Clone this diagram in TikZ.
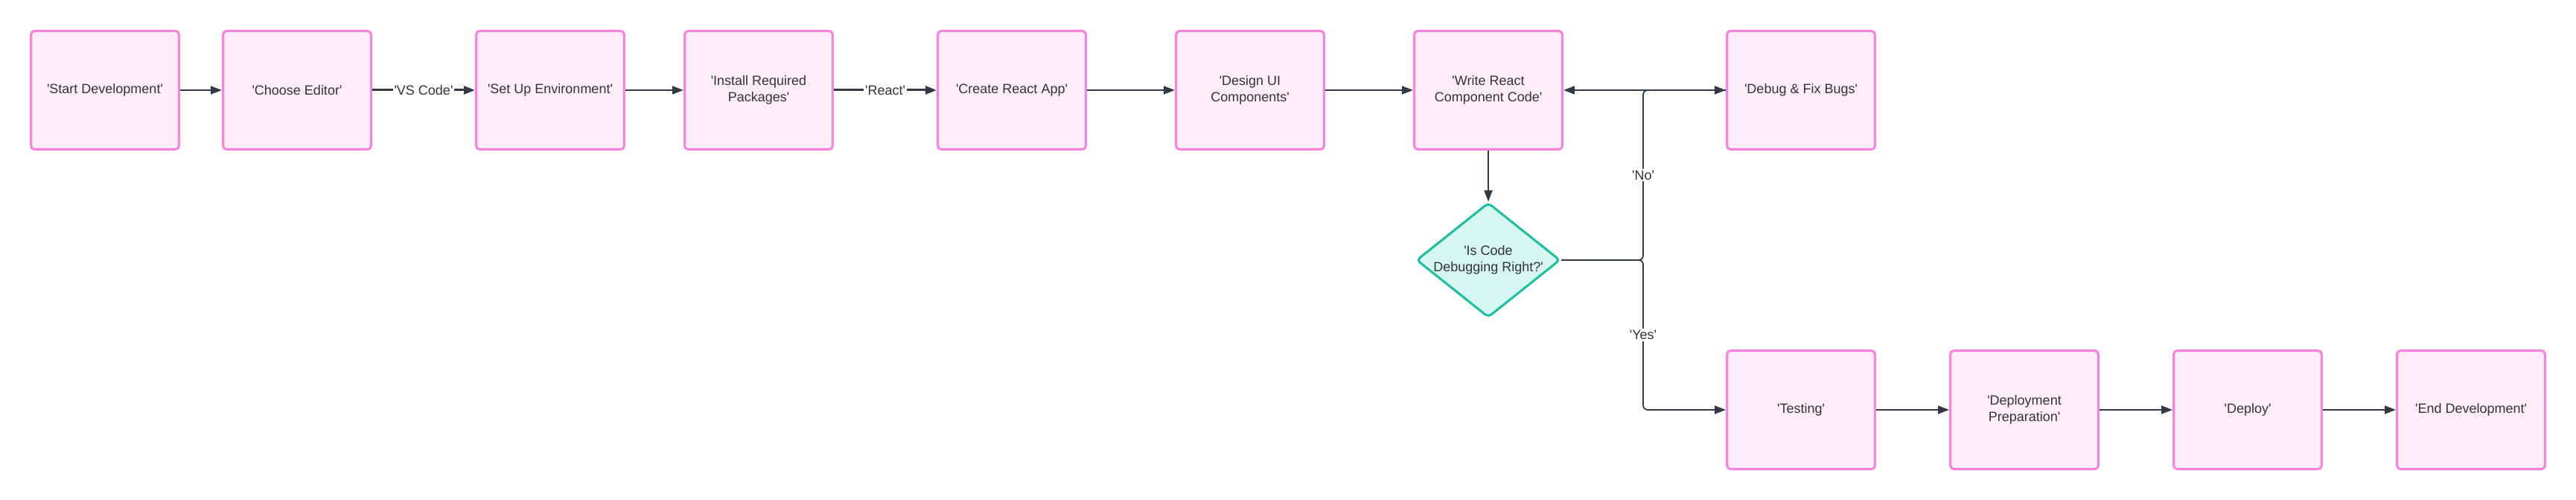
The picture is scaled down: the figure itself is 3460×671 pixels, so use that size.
\documentclass[tikz,border=0pt]{standalone}
\usepackage{fontspec}
\setmainfont{Liberation Sans}
\usetikzlibrary{shapes.geometric,arrows.meta}
\definecolor{pinkline}{HTML}{FF7FDF}
\definecolor{pinkfill}{HTML}{FFEEF9}
\definecolor{tealline}{HTML}{1BBFA0}
\definecolor{tealfill}{HTML}{D5F7F0}
\definecolor{edgecol}{HTML}{333842}
\definecolor{txtcol}{HTML}{333333}
\newcommand{\aps}{\textquotesingle}
\begin{document}
\begin{tikzpicture}[x=1pt,y=-1pt,
  proc/.style={draw=pinkline, fill=pinkfill, line width=3pt, rounded corners=5pt,
    minimum width=199pt, minimum height=159pt, inner sep=0pt, text=txtcol,
    font=\fontsize{18}{22}\selectfont, align=center},
  dec/.style={shape=diamond, draw=tealline, fill=tealfill, line width=3pt, rounded corners=5pt,
    minimum width=193pt, minimum height=154pt, inner sep=0pt, shape aspect=1.25},
  dectext/.style={text=txtcol, font=\fontsize{18}{22}\selectfont, align=center, inner sep=0pt},
  arr/.style={draw=edgecol, line width=1.8pt, -{Triangle[length=15pt,width=11pt]}},
  thickarr/.style={arr, line width=3pt},
  lab/.style={fill=white, text=txtcol, font=\fontsize{18}{22}\selectfont, inner sep=2pt}
]
\useasboundingbox (0,0) rectangle (3460,671);

\node[proc] (start) at (141,121) {\aps Start Development\aps};
\node[proc] (editor) at (399,121) {\aps Choose Editor\aps};
\node[proc] (env) at (739,121) {\aps Set Up Environment\aps};
\node[proc] (install) at (1019,121) {\aps Install Required\\Packages\aps};
\node[proc] (create) at (1359,121) {\aps Create React App\aps};
\node[proc] (design) at (1679,121) {\aps Design UI\\Components\aps};
\node[proc] (write) at (1999,121) {\aps Write React\\Component Code\aps};
\node[proc] (debug) at (2419,121) {\aps Debug \& Fix Bugs\aps};
\node[dec] (check) at (1999,349) {};
\node[dectext] (checktxt) at (check.center) {\aps Is Code\\Debugging Right?\aps};
\node[proc] (testing) at (2419,550) {\aps Testing\aps};
\node[proc] (prep) at (2719,550) {\aps Deployment\\Preparation\aps};
\node[proc] (deploy) at (3019,550) {\aps Deploy\aps};
\node[proc] (endd) at (3319,550) {\aps End Development\aps};

\coordinate (jmid) at (2207,349);
\coordinate (jtop) at (2207,121);
\coordinate (jbot) at (2207,550);

\draw[arr] (start) -- (editor);
\draw[thickarr] (editor) -- node[lab]{\aps VS Code\aps} (env);
\draw[arr] (env) -- (install);
\draw[thickarr] (install) -- node[lab]{\aps React\aps} (create);
\draw[arr] (create) -- (design);
\draw[arr] (design) -- (write);
\draw[arr] (write) -- (check);
\draw[arr] (debug) -- (write);
\draw[arr, rounded corners=6pt] (check.east) -- (jmid) -- node[lab]{\aps No\aps} (jtop) -- (debug.west);
\draw[arr, rounded corners=6pt] (check.east) -- (jmid) -- node[lab]{\aps Yes\aps} (jbot) -- (testing.west);
\draw[arr] (testing) -- (prep);
\draw[arr] (prep) -- (deploy);
\draw[arr] (deploy) -- (endd);
\end{tikzpicture}
\end{document}
